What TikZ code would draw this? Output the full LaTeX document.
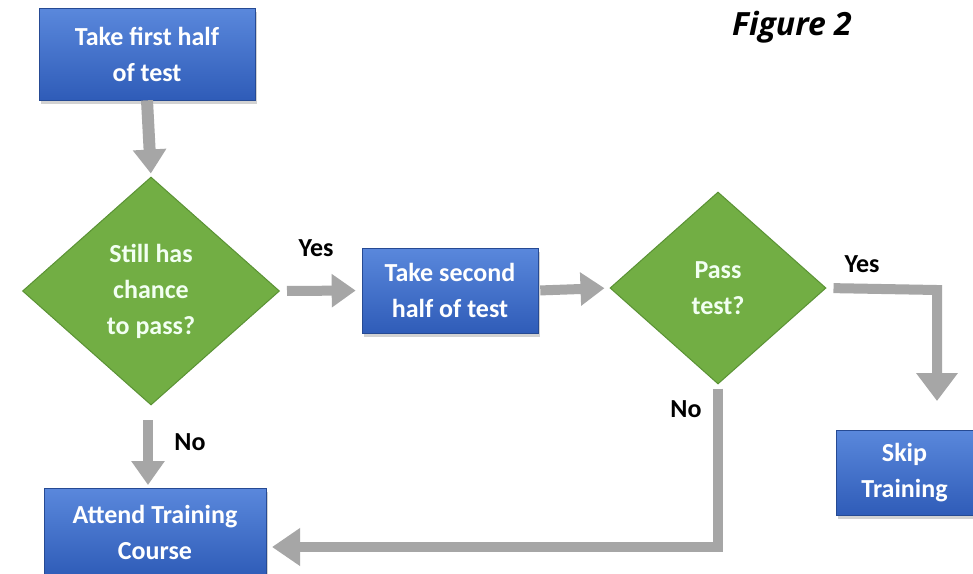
\documentclass[tikz,border=0pt]{standalone}
\usepackage{fontspec}
\setmainfont{Carlito}
\newfontfamily\figfont{Open Sans}
\usetikzlibrary{shapes.geometric,arrows.meta,shadows}
\definecolor{boxtop}{HTML}{5A88DC}
\definecolor{boxbot}{HTML}{2F5CB8}
\definecolor{dgreen}{HTML}{72AE44}
\definecolor{dgreenline}{HTML}{5A9234}
\definecolor{arrgray}{HTML}{A6A6A6}
\tikzset{
  bluebox/.style={rectangle, top color=boxtop, bottom color=boxbot, draw=boxbot!80!black, line width=0.6pt,
    text=white, font=\bfseries\fontsize{26}{36}\selectfont, align=center, inner sep=0pt,
    drop shadow={opacity=0.35, shadow xshift=2pt, shadow yshift=-4pt}},
  decision/.style={diamond, fill=dgreen, draw=dgreenline, line width=1pt, text=white!95!green,
    font=\bfseries\fontsize{26}{36}\selectfont, align=center, inner sep=0pt},
  flow/.style={draw=arrgray, line width=10pt, -{Triangle[width=32pt,length=24pt]}},
  lbl/.style={font=\bfseries\fontsize{26}{30}\selectfont, text=black}
}
\begin{document}
\begin{tikzpicture}[x=1pt,y=-1pt]
\useasboundingbox[fill=white] (0,0) rectangle (973,573);
% nodes
\node[bluebox, minimum width=216pt, minimum height=92pt] (first) at (147,54) {Take first half\\of test};
\node[decision, minimum width=257pt, minimum height=228pt] (chance) at (151,291) {Still has\\chance\\to pass?};
\node[bluebox, minimum width=176pt, minimum height=85pt] (second) at (450,290.5) {Take second\\half of test};
\node[decision, minimum width=216pt, minimum height=192pt] (pass) at (718,288) {Pass\\test?};
\node[bluebox, minimum width=137pt, minimum height=85pt] (skip) at (904.5,472.5) {Skip\\Training};
\node[bluebox, minimum width=222pt, minimum height=88pt] (attend) at (155,532) {Attend Training\\Course};
\node[font=\figfont\bfseries\itshape\fontsize{32}{38}\selectfont] (fig) at (792,27) {Figure 2};
% labels
\node[lbl] (yes1) at (316,248) {Yes};
\node[lbl] (yes2) at (862,264) {Yes};
\node[lbl] (no1) at (190,442) {No};
\node[lbl] (no2) at (686,409) {No};
% coordinates
\coordinate (c1) at (937,290);
\coordinate (c2) at (937,401);
\coordinate (c3) at (718,547);
\coordinate (c4) at (272,547);
\coordinate (c5) at (148,420);
\coordinate (c6) at (148,485);
% connectors
\draw[flow, line width=12pt, shorten >=3pt] (first.south) -- (chance.north);
\draw[flow, shorten <=7pt, shorten >=6pt] (chance.east) -- (second.west);
\draw[flow, shorten <=2pt, shorten >=5pt] (second.east) -- (pass.west);
\draw[flow, line join=miter, shorten <=7pt, -{Triangle[width=40pt,length=28pt]}] (pass.east) -- (c1) -- (c2);
\draw[flow, line join=miter, shorten <=4pt, -{Triangle[width=36pt,length=28pt]}] (pass.south) -- (c3) -- (c4);
\draw[flow] (c5) -- (c6);
\end{tikzpicture}
\end{document}
